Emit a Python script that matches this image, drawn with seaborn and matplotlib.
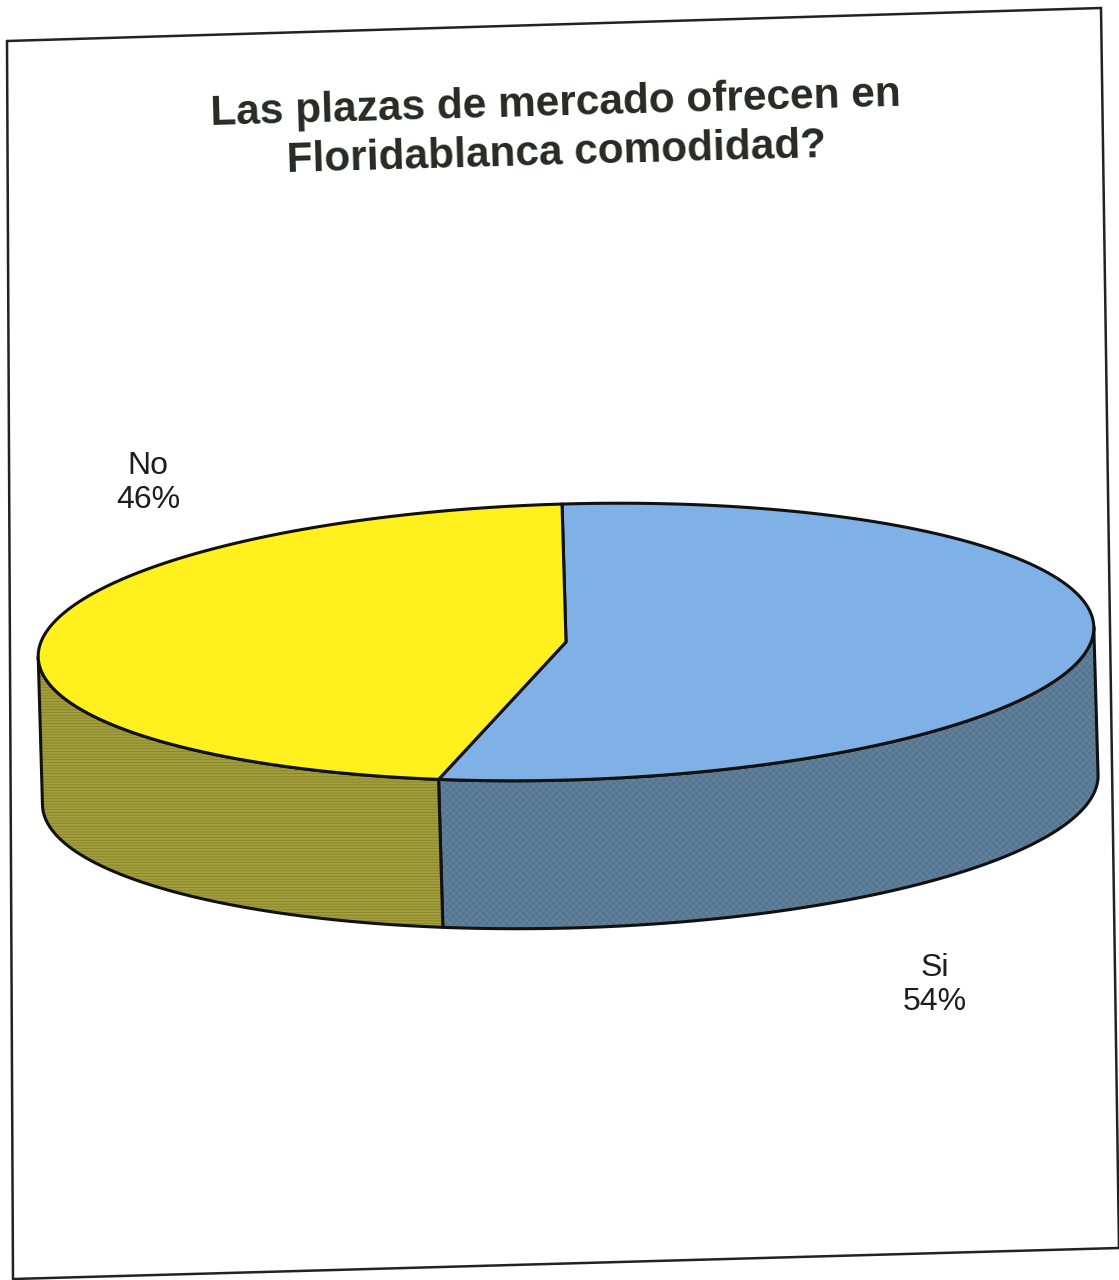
import numpy as np
import matplotlib
matplotlib.use("Agg")
import matplotlib.pyplot as plt
from matplotlib.patches import Polygon
import seaborn as sns

# Survey answers
categories = ["Si", "No"]
shares = [54, 46]
top_colors = ["#7fb1e6", "#fff01e"]
side_colors = ["#56768f", "#a29f3c"]
texture_colors = ["#6585a2", "#85822a"]
title = "Las plazas de mercado ofrecen en\nFloridablanca comodidad?"

sns.set_theme(style="white")
plt.rcParams["font.family"] = ["Liberation Sans", "DejaVu Sans"]
plt.rcParams["hatch.linewidth"] = 0.6

W, H = 1119, 1280
fig = plt.figure(figsize=(W / 100, H / 100), dpi=100)
ax = fig.add_axes([0, 0, 1, 1])
ax.set_xlim(0, W)
ax.set_ylim(H, 0)
ax.axis("off")

# Geometry of the tilted 3D pie (page units, y grows downward)
cx, cy = 566, 642
a, b, depth = 528, 138, 148
tilt = np.deg2rad(1.65)


def place(x, y):
    dx, dy = x - cx, y - cy
    return (cx + dx * np.cos(tilt) + dy * np.sin(tilt),
            cy - dx * np.sin(tilt) + dy * np.cos(tilt))


def rim(t, drop=0.0):
    t = np.asarray(t, dtype=float)
    return place(cx + a * np.cos(t), cy - b * np.sin(t) + drop)


fractions = np.array(shares, dtype=float) / np.sum(shares)
starts = np.deg2rad(90) - 2 * np.pi * np.concatenate([[0], np.cumsum(fractions)[:-1]])
ends = starts - 2 * np.pi * fractions

edge_kw = dict(edgecolor="#111111", linewidth=2.2, joinstyle="round")
hatches = ["xxxxx", "------"]

# Side walls: only the front half of the rim is visible
for lo, hi, col, tex, hat in zip(ends, starts, side_colors, texture_colors, hatches):
    for k in (-2 * np.pi, 0.0, 2 * np.pi):
        s, e = max(lo, -np.pi + k), min(hi, 0.0 + k)
        if e - s <= 1e-6:
            continue
        t = np.linspace(s, e, 200)
        xt, yt = rim(t)
        xb, yb = rim(t[::-1], depth)
        pts = np.column_stack([np.concatenate([xt, xb]), np.concatenate([yt, yb])])
        ax.add_patch(Polygon(pts, closed=True, facecolor=col, edgecolor="none"))
        ax.add_patch(Polygon(pts, closed=True, facecolor="none", edgecolor=tex,
                             hatch=hat, linewidth=0))
        ax.add_patch(Polygon(pts, closed=True, facecolor="none", **edge_kw))

# Top faces
for s, e, col in zip(starts, ends, top_colors):
    t = np.linspace(s, e, 300)
    xs, ys = rim(t)
    c = place(cx, cy)
    pts = np.column_stack([np.concatenate([[c[0]], xs]), np.concatenate([[c[1]], ys])])
    ax.add_patch(Polygon(pts, closed=True, facecolor=col, **edge_kw))

# Category labels
label_pos = {"Si": (935, 985), "No": (148, 483)}
for cat, val in zip(categories, shares):
    x, y = label_pos[cat]
    ax.text(x, y, f"{cat}\n{val}%", ha="center", va="center", fontsize=23,
            color="#1e1e1e", linespacing=1.2)

# Title
ax.text(556, 129, title, ha="center", va="center", fontsize=30.5, fontweight="bold",
        color="#262a26", linespacing=1.32, rotation=1.6, rotation_mode="anchor")

# Chart border
ax.plot([7, 1101, 1119, 13, 7], [41, 8, 1248, 1279, 41], color="#222222",
        linewidth=1.8, clip_on=False, solid_joinstyle="miter")

fig.savefig("out.png", dpi=100, facecolor="white")
